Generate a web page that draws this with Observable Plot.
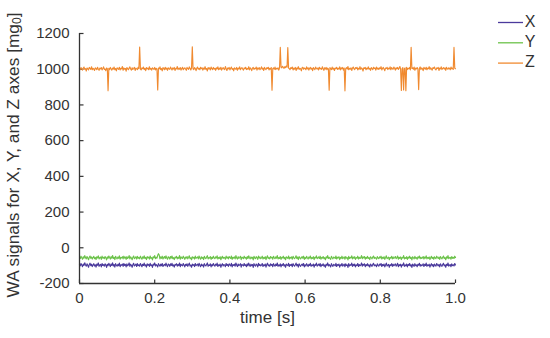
<!DOCTYPE html>
<html>
<head>
<meta charset="utf-8">
<script src="https://cdn.jsdelivr.net/npm/d3@7"></script>
<script src="https://cdn.jsdelivr.net/npm/@observablehq/plot@0.6"></script>
<style>
  html, body { margin: 0; padding: 0; background: #fff; }
  #chart { width: 550px; height: 338px; }
</style>
</head>
<body>
<div id="chart"></div>
<script>
// ---- data ----
const series = ["X", "Y", "Z"];
const seriesColors = ["#4b3a9c", "#6cc24a", "#f08a30"];
const dt = 0.002; // sampling step [s]
const xTicks = [0, 0.2, 0.4, 0.6, 0.8, 1.0];
const xTickLabels = ["0", "0.2", "0.4", "0.6", "0.8", "1.0"];
const yTicks = [-200, 0, 200, 400, 600, 800, 1000, 1200];
const yTickLabels = ["-200", "0", "200", "400", "600", "800", "1000", "1200"];
const xLabel = "time [s]";
const yLabelMain = "WA signals for X, Y, and Z axes [mg";
const yLabelSub = "0";
const yLabelEnd = "]";

const xValues = [
  -93, -101, -88, -97, -106, -91, -99, -84, -96, -103, -90, -98, -109, -94, -86, -100, -92, -105, -97, -89,
  -102, -95, -108, -91, -98, -85, -104, -96, -93, -107, -88, -99, -94, -103, -90, -97, -110, -92, -100, -87,
  -96, -105, -91, -99, -84, -102, -94, -108, -89, -97, -103, -93, -100, -86, -106, -95, -98, -91, -104, -88,
  -99, -93, -107, -90, -101, -96, -85, -104, -92, -98, -109, -94, -87, -102, -97, -91, -105, -89, -100, -95,
  -103, -88, -97, -106, -92, -99, -86, -101, -95, -108, -90, -98, -93, -104, -87, -100, -96, -110, -91, -97,
  -85, -102, -94, -99, -107, -89, -96, -103, -92, -100, -88, -105, -97, -93, -101, -86, -98, -106, -91, -95,
  -104, -90, -99, -87, -102, -96, -108, -93, -97, -89, -103, -94, -100, -85, -106, -92, -98, -101, -88, -96,
  -107, -93, -99, -90, -104, -95, -86, -102, -97, -109, -91, -98, -94, -105, -88, -100, -96, -92, -103, -87,
  -98, -106, -91, -100, -95, -108, -89, -97, -102, -93, -85, -104, -96, -99, -90, -107, -94, -101, -88, -97,
  -103, -92, -98, -86, -105, -95, -100, -91, -109, -96, -89, -102, -94, -97, -106, -88, -99, -93, -104, -90,
  -96, -101, -87, -107, -94, -99, -92, -103, -85, -98, -105, -91, -100, -96, -89, -108, -93, -97, -102, -88,
  -99, -95, -106, -90, -101, -86, -97, -104, -92, -100, -94, -110, -89, -98, -103, -91, -96, -107, -87, -99,
  -93, -102, -97, -88, -105, -95, -100, -91, -108, -94, -86, -101, -96, -104, -90, -98, -93, -106, -89, -97,
  -103, -92, -99, -85, -104, -96, -101, -90, -107, -94, -98, -88, -102, -95, -109, -91, -97, -100, -87, -105,
  -94, -99, -92, -106, -89, -97, -103, -95, -86, -101, -93, -108, -90, -98, -104, -96, -91, -100, -88, -107,
  -95, -102, -89, -97, -105, -93, -99, -87, -104, -96, -100, -91, -108, -94, -98, -86, -103, -97, -92, -101,
  -88, -106, -95, -99, -90, -103, -96, -109, -92, -98, -85, -102, -94, -100, -107, -89, -97, -104, -93, -96,
  -101, -87, -105, -94, -98, -91, -108, -95, -100, -88, -103, -97, -92, -106, -90, -99, -96, -110, -89, -102,
  -95, -98, -86, -104, -93, -100, -91, -107, -96, -99, -88, -105, -94, -101, -97, -85, -103, -92, -98, -90,
  -106, -94, -100, -89, -102, -96, -108, -91, -97, -104, -93, -87, -101, -95, -99, -106, -90, -98, -103, -92,
  -97, -88, -105, -94, -100, -91, -107, -96, -86, -102, -98, -93, -109, -95, -99, -89, -104, -92, -101, -96,
  -90, -103, -97, -87, -106, -94, -100, -92, -108, -95, -98, -85, -104, -96, -101, -91, -107, -93, -99, -88,
  -102, -95, -110, -91, -97, -104, -89, -100, -96, -106, -92, -98, -87, -103, -94, -101, -97, -90, -105, -93,
  -99, -86, -104, -95, -100, -92, -108, -97, -89, -102, -94, -106, -91, -98, -103, -88, -96, -101, -93, -107,
  -90, -98, -104, -94, -87, -101, -96, -109, -92, -99, -85, -103, -97, -94, -106, -90, -100, -95, -102, -88,
  -96
];

const yValues = [
  -52, -60, -47, -56, -64, -50, -58, -44, -55, -62, -49, -57, -67, -53, -46, -59, -51, -63, -55, -48,
  -61, -54, -66, -50, -57, -45, -62, -55, -52, -65, -47, -58, -53, -61, -49, -56, -68, -51, -59, -46,
  -55, -63, -50, -58, -43, -60, -53, -66, -48, -56, -62, -52, -59, -45, -64, -54, -57, -50, -62, -47,
  -58, -52, -65, -49, -60, -55, -44, -62, -51, -57, -67, -53, -46, -61, -56, -50, -63, -48, -59, -54,
  -62, -47, -56, -64, -51, -58, -45, -60, -54, -66, -49, -57, -52, -63, -46, -59, -55, -68, -50, -56,
  -44, -61, -53, -58, -42, -33, -41, -62, -51, -59, -47, -63, -54, -49, -60, -45, -57, -64, -50, -54,
  -63, -49, -58, -46, -61, -55, -66, -52, -56, -48, -62, -53, -59, -44, -64, -51, -57, -60, -47, -55,
  -65, -52, -58, -49, -62, -54, -45, -61, -56, -67, -50, -57, -53, -63, -47, -59, -55, -51, -62, -46,
  -57, -64, -50, -59, -54, -66, -48, -56, -61, -52, -44, -62, -55, -58, -49, -65, -53, -60, -47, -56,
  -61, -51, -57, -45, -63, -54, -59, -50, -67, -55, -48, -60, -53, -56, -64, -47, -58, -52, -62, -49,
  -55, -60, -46, -65, -53, -58, -51, -62, -44, -57, -63, -50, -59, -55, -48, -66, -52, -56, -61, -47,
  -58, -54, -64, -49, -60, -45, -56, -62, -51, -59, -53, -68, -48, -57, -61, -50, -55, -65, -46, -58,
  -52, -61, -56, -47, -63, -54, -59, -50, -66, -53, -45, -60, -55, -62, -49, -57, -52, -64, -48, -56,
  -61, -51, -58, -44, -62, -55, -60, -49, -65, -53, -57, -47, -61, -54, -67, -50, -56, -59, -46, -63,
  -53, -58, -51, -64, -48, -56, -61, -54, -45, -60, -52, -66, -49, -57, -62, -55, -50, -59, -47, -65,
  -54, -61, -48, -56, -63, -52, -58, -46, -62, -55, -59, -50, -66, -53, -57, -45, -61, -56, -51, -60,
  -47, -64, -54, -58, -49, -61, -55, -67, -51, -57, -44, -60, -53, -59, -65, -48, -56, -62, -52, -55,
  -60, -46, -63, -53, -57, -50, -66, -54, -59, -47, -61, -56, -51, -64, -49, -58, -55, -68, -48, -60,
  -54, -57, -45, -62, -52, -59, -50, -65, -55, -58, -47, -63, -53, -60, -56, -44, -61, -51, -57, -49,
  -64, -53, -59, -48, -60, -55, -66, -50, -56, -62, -52, -46, -60, -54, -58, -64, -49, -57, -61, -51,
  -56, -47, -63, -53, -59, -50, -65, -55, -45, -61, -57, -52, -67, -54, -58, -48, -62, -51, -60, -55,
  -49, -61, -56, -46, -64, -53, -59, -51, -66, -54, -57, -44, -62, -55, -60, -50, -65, -52, -58, -47,
  -60, -54, -68, -50, -56, -62, -48, -59, -55, -64, -51, -57, -46, -61, -53, -60, -56, -49, -63, -52,
  -58, -45, -62, -54, -59, -51, -66, -56, -48, -60, -53, -64, -50, -57, -61, -47, -55, -60, -52, -65,
  -49, -57, -62, -53, -46, -60, -55, -67, -51, -58, -44, -61, -56, -53, -64, -49, -59, -54, -60, -47,
  -55
];

const zValues = [
  1004, 998, 1009, 1001, 995, 1006, 1012, 999, 1003, 990, 1007, 1002, 996, 1010, 1004, 999, 1014, 997, 1005, 1001,
  993, 1008, 1003, 998, 1011, 1000, 994, 1006, 1002, 1009, 996, 1004, 1013, 999, 1001, 992, 1007, 1003, 880, 1005,
  998, 1010, 1002, 995, 1006, 1001, 1012, 997, 1004, 991, 1008, 1003, 999, 1011, 996, 1005, 1002, 1015, 994, 1007,
  1000, 1004, 989, 1009, 1003, 997, 1006, 1013, 1001, 995, 1008, 999, 1004, 1010, 993, 1006, 1002, 998, 1011, 1003,
  1124, 1001, 996, 1007, 1003, 1012, 998, 1005, 992, 1009, 1002, 1006, 997, 1014, 1000, 1004, 995, 1008, 1003, 999,
  1010, 996, 1005, 1001, 884, 1007, 1002, 1013, 998, 1004, 991, 1009, 1003, 997, 1011, 1000, 1006, 994, 1008, 1002,
  999, 1012, 1004, 996, 1007, 1001, 1010, 993, 1005, 1002, 1015, 998, 1006, 1000, 1009, 995, 1004, 1011, 997, 1003,
  1008, 1001, 994, 1010, 1003, 999, 1013, 1005, 996, 1007, 1125, 1002, 998, 1009, 1004, 992, 1006, 1012, 1000, 1005,
  997, 1011, 1003, 1008, 995, 1006, 1001, 1014, 999, 1004, 990, 1009, 1002, 1007, 996, 1012, 1003, 998, 1010, 1001,
  1005, 994, 1008, 1002, 1013, 997, 1006, 1000, 1011, 995, 1004, 1009, 1001, 998, 1015, 1003, 993, 1007, 1002, 1010,
  996, 1005, 1012, 999, 1004, 991, 1008, 1003, 1000, 1010, 994, 1006, 1002, 1013, 997, 1005, 1009, 1001, 995, 1007,
  1003, 1011, 998, 1004, 1000, 1014, 996, 1008, 1002, 992, 1006, 1010, 999, 1005, 1003, 1012, 995, 1007, 1001, 1009,
  997, 1004, 1013, 1000, 1006, 993, 1010, 1002, 998, 1008, 1004, 1011, 996, 1005, 1001, 1009, 883, 1003, 1007, 1000,
  1012, 998, 1005, 1002, 1008, 995, 1006, 1122, 1012, 1008, 1016, 1010, 1005, 1014, 1009, 1018, 1011, 1121, 1007, 1003,
  998, 1009, 1004, 1012, 996, 1006, 1001, 1010, 993, 1007, 1002, 1014, 999, 1005, 1003, 991, 1008, 1011, 1000, 1006,
  1004, 997, 1013, 1002, 1008, 995, 1005, 1010, 1000, 1006, 992, 1009, 1003, 998, 1012, 1004, 1001, 1007, 996, 1011,
  1002, 1005, 999, 1014, 1003, 994, 1008, 1001, 1010, 997, 1006, 1002, 882, 1009, 1004, 998, 1012, 1000, 1006, 993,
  1007, 1003, 1011, 999, 1005, 1001, 1013, 996, 1008, 1002, 1010, 995, 1006, 879, 1004, 1009, 1001, 1015, 997, 1005,
  1000, 1008, 993, 1006, 1012, 1002, 998, 1009, 1004, 1011, 996, 1005, 1001, 1014, 999, 1007, 1003, 990, 1008, 1004,
  1010, 997, 1006, 1002, 1013, 1000, 1005, 994, 1009, 1003, 998, 1011, 1004, 1007, 995, 1012, 1001, 1006, 999, 1008,
  1003, 1014, 996, 1005, 1010, 1001, 992, 1007, 1004, 1011, 998, 1006, 1002, 1013, 997, 1009, 1003, 1000, 1012, 1005,
  995, 1008, 1002, 1010, 999, 1006, 1015, 1001, 881, 1004, 1009, 884, 1003, 1007, 880, 1011, 998, 1005, 1002, 1010,
  996, 1123, 1004, 1008, 1000, 1012, 994, 1006, 1002, 1009, 1001, 886, 1005, 1013, 998, 1007, 1003, 992, 1010, 1004,
  1000, 1011, 997, 1006, 1003, 1014, 999, 1008, 1002, 995, 1009, 1005, 1012, 1001, 996, 1007, 1004, 1010, 993, 1006,
  1002, 1013, 998, 1005, 1009, 1001, 1007, 994, 1011, 1003, 1000, 1008, 1004, 997, 1012, 1002, 1006, 999, 1122, 1005,
  1003
];

const seriesValues = [xValues, yValues, zValues];

// ---- build table ----
const rows = [];
series.forEach((s, k) => {
  seriesValues[k].forEach((v, i) => rows.push({ t: i * dt, v, s }));
});

const axisColor = "#333";
const textColor = "#333";

const chart = Plot.plot({
  width: 550,
  height: 338,
  marginLeft: 79,
  marginRight: 95,
  marginTop: 33,
  marginBottom: 55,
  style: { fontFamily: "'Liberation Sans', Arial, sans-serif", fontSize: "15px", color: textColor, background: "#fff" },
  x: { domain: [0, 1] },
  y: { domain: [-200, 1200] },
  color: { domain: series, range: seriesColors },
  marks: [
    Plot.axisX({ ticks: xTicks, tickFormat: (d, i) => xTickLabels[i], tickSize: 0, tickPadding: 9, label: null, fontSize: 15 }),
    Plot.axisY({ ticks: yTicks, tickFormat: (d, i) => yTickLabels[i], tickSize: 0, tickPadding: 10, label: null, fontSize: 15 }),
    Plot.ruleY(yTicks, { x1: 0, x2: 0.012, stroke: axisColor, strokeWidth: 1.2 }),
    Plot.ruleX(xTicks, { y1: -200, y2: -180, stroke: axisColor, strokeWidth: 1.2 }),
    Plot.lineY(rows, { x: "t", y: "v", z: "s", stroke: "s", strokeWidth: 1.15 }),
    Plot.ruleX([0], { stroke: axisColor, strokeWidth: 1.3 }),
    Plot.ruleY([-200], { stroke: axisColor, strokeWidth: 1.3 }),
    Plot.text([xLabel], { frameAnchor: "bottom", dy: 39, fontSize: 17, fill: textColor })
  ]
});

document.getElementById("chart").appendChild(chart);

// y-axis title with subscript
const svg = d3.select(chart);
const yt = svg.append("text")
  .attr("transform", "translate(14,155) rotate(-90)")
  .attr("text-anchor", "middle")
  .attr("dominant-baseline", "middle")
  .attr("fill", textColor)
  .style("font-size", "17.3px");
yt.append("tspan").text(yLabelMain);
yt.append("tspan").attr("font-size", "12px").attr("dy", "4").text(yLabelSub);
yt.append("tspan").attr("dy", "-4").text(yLabelEnd);

// legend
const lg = svg.append("g");
series.forEach((s, k) => {
  const y = 22.5 + k * 20.3;
  lg.append("line").attr("x1", 498).attr("x2", 523).attr("y1", y).attr("y2", y)
    .attr("stroke", seriesColors[k]).attr("stroke-width", 1.3);
  lg.append("text").attr("x", 530).attr("y", y).attr("dominant-baseline", "middle")
    .attr("fill", textColor).style("font-size", "16px").text(s);
});
</script>
</body>
</html>
